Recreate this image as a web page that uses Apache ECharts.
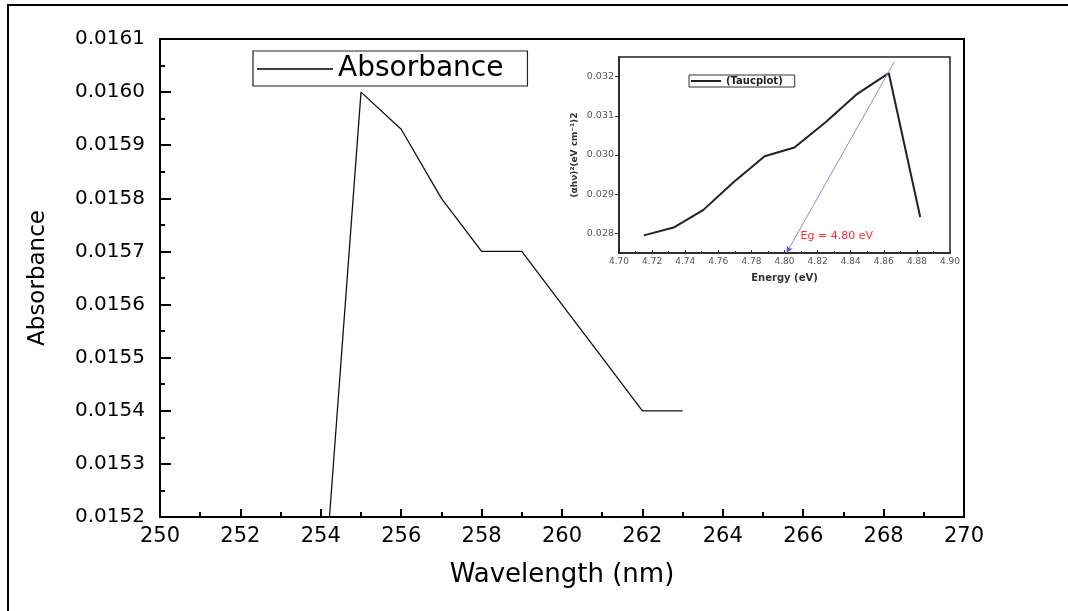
<!DOCTYPE html>
<html>
<head>
<meta charset="utf-8">
<script src="https://cdn.jsdelivr.net/npm/echarts@6/dist/echarts.min.js"></script>
<style>
  html, body { margin: 0; padding: 0; background: #fff; }
  #chart { width: 1068px; height: 611px; }
</style>
</head>
<body>
<div id="chart"></div>
<script>
// main spectrum: wavelength (nm) vs absorbance
const wavelengths = [254, 255, 256, 257, 258, 259, 260, 261, 262, 263]
const absorbance = [0.01498, 0.01600, 0.01593, 0.01580, 0.01570, 0.01570, 0.01560, 0.01550, 0.01540, 0.01540]

// inset Tauc plot
const energies = [4.715, 4.733, 4.751, 4.769, 4.788, 4.806, 4.825, 4.844, 4.863, 4.882]
const taucValues = [0.02795, 0.02815, 0.02860, 0.02930, 0.02997, 0.03019, 0.03084, 0.03156, 0.03209, 0.02842]
const tangentX = [4.8012, 4.8664]
const tangentY = [0.0275, 0.03238]
const insetYTicks = [0.028, 0.029, 0.030, 0.031, 0.032]

// the original is a bit stretched sideways, DejaVu is wider than Arial so it fits better
const font = 'DejaVu Sans, Liberation Sans, sans-serif'
const chart = echarts.init(document.getElementById('chart'))

chart.setOption({
  animation: false,
  backgroundColor: '#fff',
  graphic: [
    {
      type: 'rect',
      shape: { x: 8, y: 5, width: 1100, height: 700 },
      style: { fill: 'none', stroke: '#000', lineWidth: 2 },
      silent: true,
    },
  ],
  legend: [
    {
      data: ['Absorbance'],
      left: 253, top: 51,
      icon: 'rect',
      itemWidth: 76, itemHeight: 1.5,
      itemStyle: { color: '#000' },
      padding: [4, 24, 3, 4],
      borderColor: '#222', borderWidth: 1.2,
      textStyle: { fontFamily: font, fontSize: 28, color: '#000' },
    },
    {
      data: ['(Taucplot)'],
      left: 689, top: 75,
      icon: 'rect',
      itemWidth: 30, itemHeight: 2,
      itemStyle: { color: '#222' },
      padding: [1, 12, 1, 2],
      borderColor: '#333', borderWidth: 1,
      textStyle: { fontFamily: font, fontSize: 10, fontWeight: 'bold', color: '#222' },
    },
  ],
  grid: [
    { left: 160, right: 104, top: 39, bottom: 94, show: true, borderColor: '#000', borderWidth: 2 },
    { left: 619, right: 118, top: 57, bottom: 358, show: true, backgroundColor: '#fff', borderColor: '#222', borderWidth: 1.5 },
  ],
  xAxis: [
    {
      gridIndex: 0,
      type: 'value',
      min: 250, max: 270, interval: 2,
      name: 'Wavelength (nm)',
      nameLocation: 'middle', nameGap: 45,
      nameTextStyle: { fontFamily: font, fontSize: 26, color: '#000' },
      axisLine: { lineStyle: { color: '#000', width: 2 } },
      axisTick: { inside: true, length: 8, lineStyle: { color: '#000', width: 2 } },
      minorTick: { show: true, splitNumber: 2, length: 5, lineStyle: { color: '#000', width: 2 } },
      axisLabel: { fontFamily: font, fontSize: 21, color: '#000', margin: 9 },
      splitLine: { show: false },
    },
    {
      gridIndex: 1,
      type: 'value',
      min: 4.70, max: 4.90, interval: 0.02,
      name: 'Energy (eV)',
      nameLocation: 'middle', nameGap: 20,
      nameTextStyle: { fontFamily: font, fontSize: 10, fontWeight: 'bold', color: '#333' },
      axisLine: { lineStyle: { color: '#222', width: 1.5 } },
      axisTick: { inside: true, length: 3, lineStyle: { color: '#333' } },
      minorTick: { show: true, splitNumber: 2, length: 2, lineStyle: { color: '#333' } },
      axisLabel: { fontFamily: font, fontSize: 9, color: '#555', margin: 4, formatter: (v) => v.toFixed(2) },
      splitLine: { show: false },
    },
  ],
  yAxis: [
    {
      gridIndex: 0,
      type: 'value',
      min: 0.0152, max: 0.0161, interval: 0.0001,
      name: 'Absorbance',
      nameLocation: 'middle', nameGap: 110,
      nameTextStyle: { fontFamily: font, fontSize: 23, color: '#000' },
      axisLine: { lineStyle: { color: '#000', width: 2 } },
      axisTick: { inside: true, length: 11, lineStyle: { color: '#000', width: 2 } },
      minorTick: { show: true, splitNumber: 2, length: 5, lineStyle: { color: '#000', width: 2 } },
      axisLabel: { fontFamily: font, fontSize: 20, color: '#000', margin: 15, formatter: (v) => v.toFixed(4) },
      splitLine: { show: false },
    },
    {
      gridIndex: 1,
      type: 'value',
      min: 0.0275, max: 0.0325,
      name: '(αhν)²(eV cm⁻¹)2',
      nameLocation: 'middle', nameGap: 40,
      nameTextStyle: { fontFamily: font, fontSize: 9, fontWeight: 'bold', color: '#333' },
      axisLine: { lineStyle: { color: '#222', width: 1.5 } },
      axisTick: { length: 4, customValues: insetYTicks, lineStyle: { color: '#333' } },
      axisLabel: { fontFamily: font, fontSize: 9.5, color: '#555', margin: 5, customValues: insetYTicks, formatter: (v) => v.toFixed(3) },
      splitLine: { show: false },
    },
  ],
  series: [
    {
      name: 'Absorbance',
      type: 'line',
      xAxisIndex: 0, yAxisIndex: 0,
      data: wavelengths.map((w, i) => [w, absorbance[i]]),
      showSymbol: false,
      lineStyle: { color: '#111', width: 1.3 },
      itemStyle: { color: '#111' },
    },
    {
      name: '(Taucplot)',
      type: 'line',
      xAxisIndex: 1, yAxisIndex: 1,
      data: energies.map((e, i) => [e, taucValues[i]]),
      showSymbol: false,
      lineStyle: { color: '#222', width: 2 },
      itemStyle: { color: '#222' },
    },
    {
      name: 'tangent',
      type: 'line',
      xAxisIndex: 1, yAxisIndex: 1,
      clip: false,
      z: 5,
      data: [
        {
          value: [tangentX[0], tangentY[0]],
          symbol: 'arrow', symbolSize: [5, 7], symbolRotate: 151,
          label: {
            show: true, formatter: 'Eg = 4.80 eV', position: [17, -15],
            fontFamily: font, fontSize: 11, color: '#ff3030',
          },
        },
        { value: [tangentX[1], tangentY[1]], symbol: 'none' },
      ],
      lineStyle: { color: '#8c8ce0', width: 1 },
      itemStyle: { color: '#5555cc' },
    },
  ],
})
</script>
</body>
</html>
